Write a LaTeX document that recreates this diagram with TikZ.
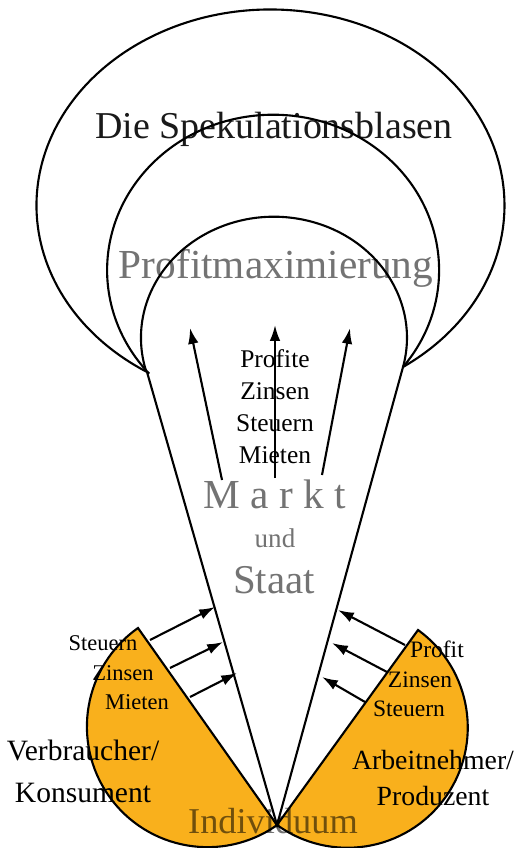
\documentclass[tikz,border=0pt]{standalone}
\usepackage{fontspec}
\setmainfont{Liberation Serif}
\usetikzlibrary{arrows.meta}
\definecolor{pieorange}{HTML}{F9B01C}
\tikzset{
  rim/.style={line width=1.2pt},
  flow/.style={line width=1.2pt, -{Latex[length=9pt,width=6pt]}},
  wedge/.style={line width=1.2pt, fill=pieorange},
  dim/.style={text=black, text opacity=0.55},
  lbl/.style={inner sep=0pt, anchor=base},
}
\begin{document}
\begin{tikzpicture}[x=0.02cm, y=0.02cm]
	  \useasboundingbox (0,0) rectangle (530,-848);
	  \coordinate (apex) at (277,-825);
	  \coordinate (coneL) at (147,-372);
	  \coordinate (coneR) at (403,-367);
	  \coordinate (pieL) at (138,-628);
	  \coordinate (pieR) at (418,-630);
	  
	  \draw[wedge] (apex) -- (pieL) arc[start angle=125.2, end angle=305.2, radius=120.6] -- cycle;
	  \draw[wedge] (apex) -- (pieR) arc[start angle=54.1, end angle=-125.9, radius=120.3] -- cycle;
	  
	  \node[lbl, text=black!90, font=\fontsize{21.6}{26}\selectfont] (blasen) at (274,-138) {Die Spekulationsblasen};
	  \node[lbl, dim, font=\fontsize{23.5}{28}\selectfont] (profit) at (276,-278) {Profitmaximierung};
	  \node[lbl, align=center, font=\fontsize{14.5}{18.2}\selectfont] (einnahmen) at (275,-463) {Profite\\Zinsen\\Steuern\\Mieten};
	  \node[lbl, dim, font=\fontsize{23.5}{28}\selectfont] (markt) at (275,-508) {M a r k t};
	  \node[lbl, dim, font=\fontsize{15.4}{18}\selectfont] (und) at (275,-547) {und};
	  \node[lbl, dim, font=\fontsize{23.3}{28}\selectfont] (staat) at (274,-593) {Staat};
	  \node[lbl, dim, font=\fontsize{20.7}{25}\selectfont] (indiv) at (273,-833) {Individuum};
	  
	  \node[lbl, font=\fontsize{12.8}{15}\selectfont] (steuernL) at (103,-650) {Steuern};
	  \node[lbl, font=\fontsize{12.8}{15}\selectfont] (zinsenL) at (123,-680) {Zinsen};
	  \node[lbl, font=\fontsize{12.8}{15}\selectfont] (mietenL) at (137,-709) {Mieten};
	  \node[lbl, font=\fontsize{13.4}{15}\selectfont] (profitR) at (437,-657) {Profit};
	  \node[lbl, font=\fontsize{13.4}{15}\selectfont] (zinsenR) at (420,-687) {Zinsen};
	  \node[lbl, font=\fontsize{13.4}{15}\selectfont] (steuernR) at (409,-716) {Steuern};
	  \node[lbl, align=center, font=\fontsize{16.8}{23.9}\selectfont] (verbraucher) at (83,-802) {Verbraucher/\\Konsument};
	  \node[lbl, align=center, font=\fontsize{15.8}{20}\selectfont] (arbeitnehmer) at (433,-805) {Arbeitnehmer/\\Produzent};
	  
	  \draw[rim] (coneL) -- (apex) -- (coneR);
	  \draw[rim] (coneR) arc[start angle=-55.5, end angle=238, x radius=234, y radius=196];
	  \draw[rim] (coneR) arc[start angle=-38.5, end angle=221.7, x radius=166, y radius=155.5];
	  \draw[rim] (coneR) arc[start angle=-14, end angle=195.8, x radius=133, y radius=121];
	  
	  \coordinate (a1) at (222,-480); \coordinate (b1) at (190,-328);
	  \coordinate (a2) at (275,-478); \coordinate (b2) at (275,-325);
	  \coordinate (a3) at (322,-475); \coordinate (b3) at (350,-328);
	  \draw[flow] (a1) -- (b1);
	  \draw[flow] (a2) -- (b2);
	  \draw[flow] (a3) -- (b3);
	  
	  \coordinate (l1) at (150,-640); \coordinate (m1) at (215,-607);
	  \coordinate (l2) at (170,-668); \coordinate (m2) at (223,-642);
	  \coordinate (l3) at (190,-697); \coordinate (m3) at (237,-673);
	  \draw[flow] (l1) -- (m1);
	  \draw[flow] (l2) -- (m2);
	  \draw[flow] (l3) -- (m3);
	  
	  \coordinate (r1) at (405,-645); \coordinate (s1) at (338,-610);
	  \coordinate (r2) at (387,-672); \coordinate (s2) at (332,-643);
	  \coordinate (r3) at (365,-702); \coordinate (s3) at (322,-677);
	  \draw[flow] (r1) -- (s1);
	  \draw[flow] (r2) -- (s2);
	  \draw[flow] (r3) -- (s3);
	\end{tikzpicture}
\end{document}
